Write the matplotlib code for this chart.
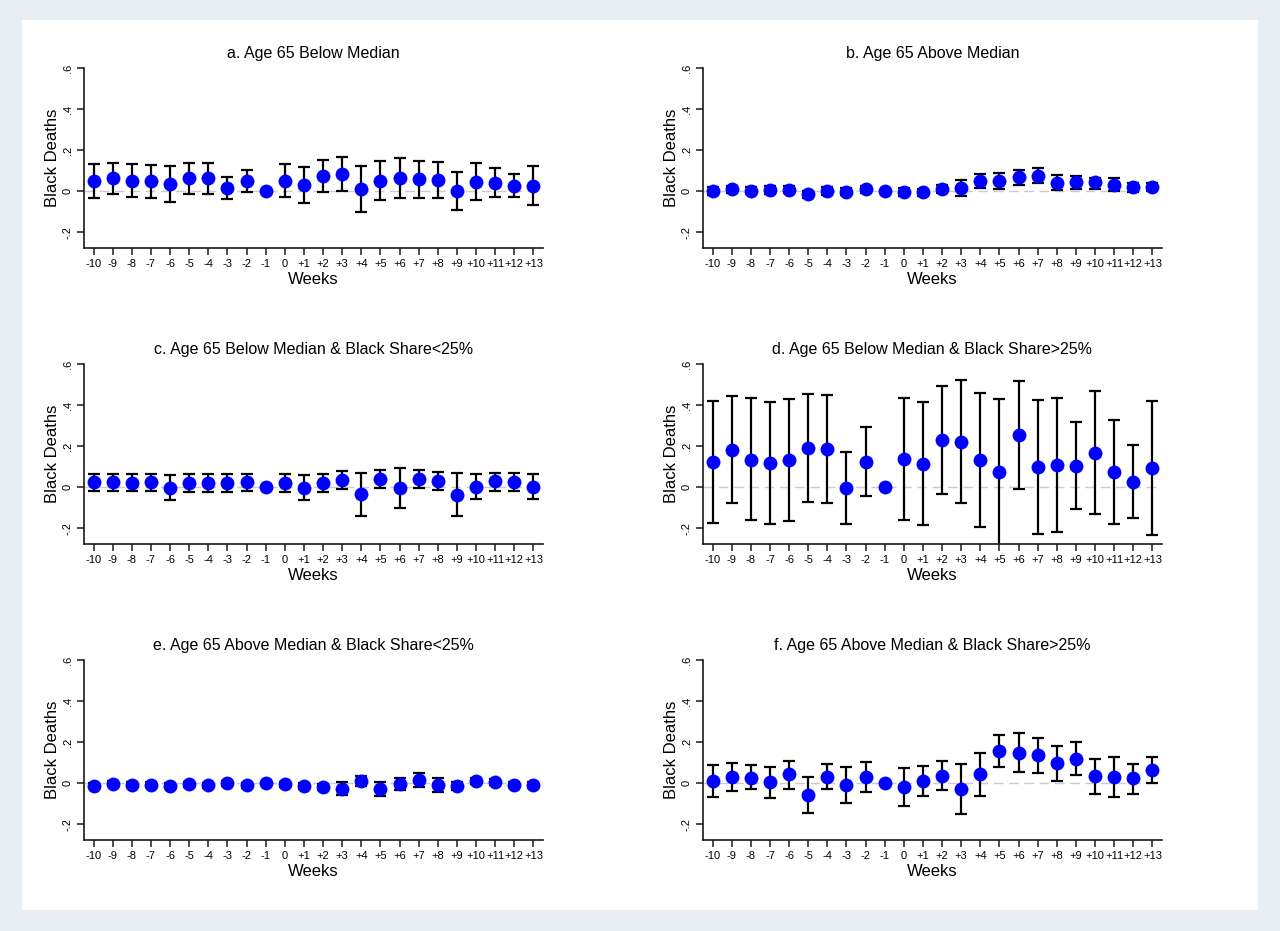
import matplotlib
matplotlib.use("Agg")
import matplotlib.pyplot as plt

plt.rcParams['font.family'] = ['Liberation Sans', 'DejaVu Sans']

weeks = list(range(-10, 14))
week_labels = [str(w) if w <= 0 else "+" + str(w) for w in weeks]

titles = [
    "a. Age 65 Below Median",
    "b. Age 65 Above Median",
    "c. Age 65 Below Median & Black Share<25%",
    "d. Age 65 Below Median & Black Share>25%",
    "e. Age 65 Above Median & Black Share<25%",
    "f. Age 65 Above Median & Black Share>25%",
]

# panel a
a_est = [0.048, 0.064, 0.051, 0.048, 0.034, 0.064, 0.064, 0.018, 0.048, 0.0, 0.050, 0.029,
         0.074, 0.085, 0.013, 0.050, 0.064, 0.058, 0.053, 0.0, 0.047, 0.042, 0.027, 0.027]
a_hi = [0.131, 0.138, 0.133, 0.130, 0.122, 0.138, 0.136, 0.069, 0.104, 0.0, 0.133, 0.117,
        0.150, 0.166, 0.123, 0.146, 0.163, 0.146, 0.142, 0.096, 0.137, 0.115, 0.082, 0.124]
a_lo = [-0.032, -0.013, -0.030, -0.034, -0.054, -0.011, -0.014, -0.038, -0.003, 0.0, -0.030, -0.059,
        -0.002, 0.002, -0.102, -0.043, -0.032, -0.032, -0.035, -0.093, -0.040, -0.027, -0.027, -0.066]

# panel b
b_est = [0.002, 0.010, 0.003, 0.006, 0.008, -0.015, 0.002, -0.002, 0.010, 0.0, -0.005, -0.005,
         0.010, 0.018, 0.050, 0.052, 0.068, 0.075, 0.042, 0.044, 0.044, 0.032, 0.021, 0.021]
b_hi = [0.020, 0.026, 0.020, 0.024, 0.026, 0.003, 0.020, 0.016, 0.028, 0.0, 0.014, 0.013,
        0.030, 0.055, 0.083, 0.088, 0.106, 0.111, 0.080, 0.075, 0.066, 0.063, 0.042, 0.039]
b_lo = [-0.016, -0.006, -0.014, -0.012, -0.010, -0.033, -0.016, -0.020, -0.008, 0.0, -0.024, -0.023,
        -0.010, -0.023, 0.016, 0.011, 0.033, 0.039, 0.005, 0.013, 0.010, 0.002, -0.005, 0.002]

# panel c
c_est = [0.024, 0.024, 0.023, 0.026, -0.002, 0.020, 0.021, 0.023, 0.024, 0.0, 0.021, -0.002,
         0.023, 0.036, -0.034, 0.042, -0.003, 0.041, 0.033, -0.036, 0.003, 0.030, 0.025, 0.003]
c_hi = [0.065, 0.065, 0.063, 0.067, 0.060, 0.063, 0.063, 0.065, 0.067, 0.0, 0.063, 0.062,
        0.063, 0.080, 0.070, 0.085, 0.094, 0.083, 0.075, 0.068, 0.066, 0.070, 0.069, 0.066]
c_lo = [-0.020, -0.020, -0.020, -0.016, -0.060, -0.023, -0.021, -0.021, -0.018, 0.0, -0.021, -0.060,
        -0.021, -0.008, -0.140, -0.002, -0.099, -0.002, -0.011, -0.141, -0.057, -0.016, -0.020, -0.057]

# panel d
d_est = [0.124, 0.182, 0.135, 0.117, 0.132, 0.189, 0.184, -0.003, 0.125, 0.0, 0.138, 0.115,
         0.229, 0.221, 0.132, 0.075, 0.254, 0.098, 0.107, 0.106, 0.167, 0.074, 0.026, 0.093]
d_hi = [0.420, 0.444, 0.434, 0.415, 0.431, 0.452, 0.447, 0.174, 0.291, 0.0, 0.436, 0.413,
        0.493, 0.522, 0.460, 0.428, 0.519, 0.426, 0.436, 0.320, 0.467, 0.326, 0.207, 0.421]
d_lo = [-0.174, -0.078, -0.161, -0.180, -0.164, -0.070, -0.076, -0.180, -0.041, 0.0, -0.159, -0.184,
        -0.033, -0.076, -0.195, -0.300, -0.010, -0.229, -0.216, -0.107, -0.131, -0.177, -0.151, -0.234]

# panel e
e_est = [-0.011, -0.002, -0.007, -0.007, -0.011, -0.005, -0.010, 0.0, -0.010, 0.0, -0.005, -0.013,
         -0.018, -0.029, 0.011, -0.029, -0.003, 0.016, -0.008, -0.011, 0.011, 0.007, -0.007, -0.010]
e_hi = [0.002, 0.010, 0.005, 0.005, 0.002, 0.007, 0.003, 0.012, 0.003, 0.0, 0.007, 0.001,
        -0.004, 0.007, 0.036, 0.007, 0.024, 0.049, 0.026, 0.008, 0.026, 0.021, 0.006, 0.004]
e_lo = [-0.024, -0.014, -0.019, -0.019, -0.024, -0.017, -0.023, -0.012, -0.023, 0.0, -0.017, -0.027,
        -0.032, -0.059, -0.013, -0.063, -0.031, -0.016, -0.042, -0.033, -0.004, -0.007, -0.020, -0.024]

# panel f
f_est = [0.011, 0.030, 0.028, 0.005, 0.043, -0.056, 0.033, -0.008, 0.031, 0.0, -0.018, 0.010,
         0.036, -0.026, 0.046, 0.159, 0.149, 0.138, 0.097, 0.120, 0.034, 0.031, 0.024, 0.065]
f_hi = [0.090, 0.097, 0.090, 0.077, 0.108, 0.033, 0.092, 0.080, 0.105, 0.0, 0.075, 0.082,
        0.107, 0.095, 0.149, 0.236, 0.243, 0.221, 0.182, 0.200, 0.119, 0.127, 0.094, 0.127]
f_lo = [-0.069, -0.036, -0.030, -0.070, -0.030, -0.146, -0.028, -0.095, -0.043, 0.0, -0.110, -0.064,
        -0.034, -0.149, -0.061, 0.080, 0.054, 0.052, 0.011, 0.039, -0.050, -0.065, -0.050, 0.003]

panels = [(a_est, a_lo, a_hi), (b_est, b_lo, b_hi), (c_est, c_lo, c_hi),
          (d_est, d_lo, d_hi), (e_est, e_lo, e_hi), (f_est, f_lo, f_hi)]

y_ticks = [-0.2, 0, 0.2, 0.4, 0.6]
y_tick_labels = ["-.2", "0", ".2", ".4", ".6"]

W, H = 1280, 931
fig = plt.figure(figsize=(W / 100, H / 100), dpi=100)
fig.patch.set_facecolor('#e8eff3')

bg = fig.add_axes([22 / W, 1 - 910 / H, (1258 - 22) / W, (910 - 20) / H], zorder=-10)
bg.set_facecolor('white')
bg.set_xticks([])
bg.set_yticks([])
for s in bg.spines.values():
    s.set_visible(False)

lefts = [84, 703]
tops = [68, 364, 660]
aw, ah = 459, 180

for i, (est, lo, hi) in enumerate(panels):
    r, c = divmod(i, 2)
    l = lefts[c]
    t = tops[r]
    ax = fig.add_axes([l / W, 1 - (t + ah) / H, aw / W, ah / H])
    ax.set_facecolor('none')
    ax.axhline(0, color='#c9cad3', lw=1.0, dashes=(7, 4), zorder=1)
    yerr_lo = [e - l_ for e, l_ in zip(est, lo)]
    yerr_hi = [h - e for e, h in zip(est, hi)]
    ax.errorbar(weeks, est, yerr=[yerr_lo, yerr_hi], fmt='none', ecolor='black',
                elinewidth=1.6, capsize=4, capthick=1.6, zorder=2)
    ax.plot(weeks, est, 'o', color='#0000ff', markersize=10, markeredgewidth=0, zorder=3)
    ax.set_xlim(-10.5, 13.5)
    ax.set_ylim(-0.276, 0.6)
    ax.set_xticks(weeks)
    ax.set_xticklabels(week_labels, fontsize=8)
    ax.set_yticks(y_ticks)
    ax.set_yticklabels(y_tick_labels, fontsize=8, rotation=90, va='center')
    ax.spines['top'].set_visible(False)
    ax.spines['right'].set_visible(False)
    for s in ('left', 'bottom'):
        ax.spines[s].set_linewidth(1.2)
        ax.spines[s].set_color('#1a1a1a')
    ax.tick_params(axis='both', direction='out', length=5, width=1.1, color='#1a1a1a', pad=3)
    ax.set_xlabel("Weeks", fontsize=12, labelpad=2)
    ax.set_ylabel("Black Deaths", fontsize=12, labelpad=2)
    ax.set_title(titles[i], fontsize=11.5, pad=7)

fig.savefig("out.png", dpi=100, facecolor=fig.get_facecolor())
